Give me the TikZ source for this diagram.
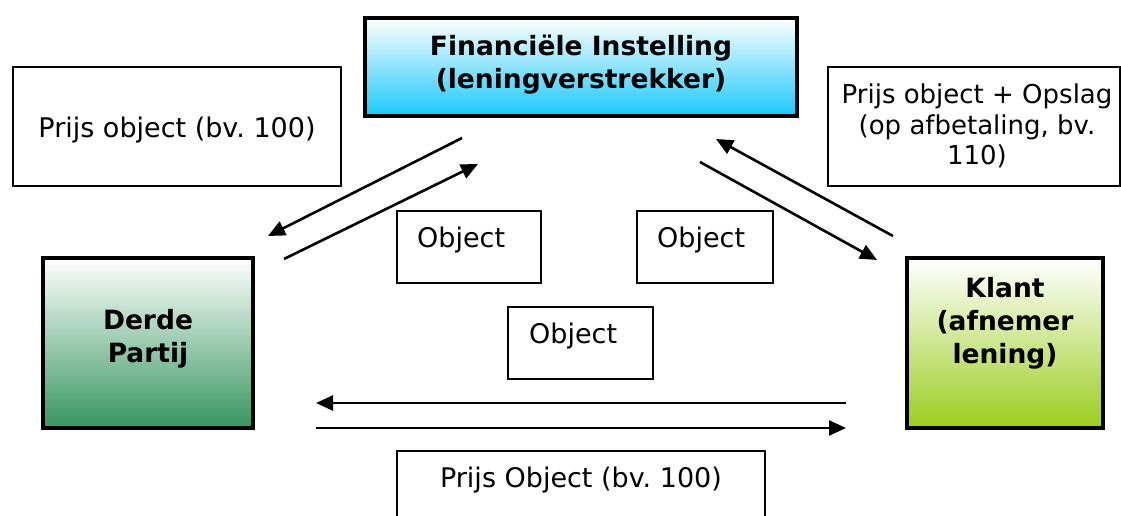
\documentclass[tikz,border=0pt]{standalone}
\usepackage{fontspec}
\setmainfont{DejaVu Sans}
\frenchspacing
\usetikzlibrary{arrows.meta}
\definecolor{finblue}{RGB}{25,200,250}
\definecolor{derdegreen}{RGB}{55,150,95}
\definecolor{klantgreen}{RGB}{155,205,30}
\tikzset{
  txt/.style={font=\fontsize{27}{30.5}\selectfont, inner sep=0pt, align=center},
  boldtxt/.style={font=\bfseries\fontsize{26.5}{33}\selectfont, inner sep=0pt, align=center},
  thinbox/.style={draw=black, line width=2.2pt, fill=white},
  thickbox/.style={draw=black, line width=4.2pt},
  arr/.style={line width=2.6pt, -{Triangle[length=17pt,width=15pt]}}
}
\begin{document}
\begin{tikzpicture}[x=1pt,y=-1pt]
\clip (0,0) rectangle (1121,516);
\fill[white] (0,0) rectangle (1121,516);

% main boxes
\draw[thickbox, top color=white, bottom color=finblue] (365,18) rectangle (797,116);
\node[boldtxt] (fin) at (581,65) {Financiële Instelling\\(leningverstrekker)};

\draw[thickbox, top color=white, bottom color=derdegreen] (43,258) rectangle (253,428);
\node[boldtxt] (derde) at (148,339) {Derde\\Partij};

\draw[thickbox, top color=white, bottom color=klantgreen] (907,258) rectangle (1103,428);
\node[boldtxt] (klant) at (1005,323) {Klant\\(afnemer\\lening)};

% label boxes
\draw[thinbox] (13,67) rectangle (341,186);
\node[txt] (p1) at (177,130) {Prijs object (bv. 100)};

\draw[thinbox] (828,67) rectangle (1120,186);
\node[txt, font=\fontsize{26}{30.5}\selectfont] (p2) at (977,126) {Prijs object + Opslag\\(op afbetaling, bv.\\110)};

\draw[thinbox] (397,211) rectangle (541,283);
\node[txt, anchor=west] (o1) at (417,240) {Object};

\draw[thinbox] (637,211) rectangle (773,283);
\node[txt, anchor=west] (o2) at (657,240) {Object};

\draw[thinbox] (508,307) rectangle (653,379);
\node[txt, anchor=west] (o3) at (529,336) {Object};

\draw[thinbox] (397,451) rectangle (765,540);
\node[txt] (p3) at (581,480) {Prijs Object (bv. 100)};

% arrow end points
\coordinate (a1s) at (462,138);
\coordinate (a1e) at (268,236);
\coordinate (a2s) at (284,259);
\coordinate (a2e) at (478,164);
\coordinate (a3s) at (893,236);
\coordinate (a3e) at (716,139);
\coordinate (a4s) at (700,162);
\coordinate (a4e) at (877,260);
\coordinate (a5s) at (846,403);
\coordinate (a5e) at (316,403);
\coordinate (a6s) at (316,428);
\coordinate (a6e) at (846,428);

\draw[arr] (a1s) -- (a1e);
\draw[arr] (a2s) -- (a2e);
\draw[arr] (a3s) -- (a3e);
\draw[arr] (a4s) -- (a4e);
\draw[arr] (a5s) -- (a5e);
\draw[arr] (a6s) -- (a6e);
\end{tikzpicture}
\end{document}
